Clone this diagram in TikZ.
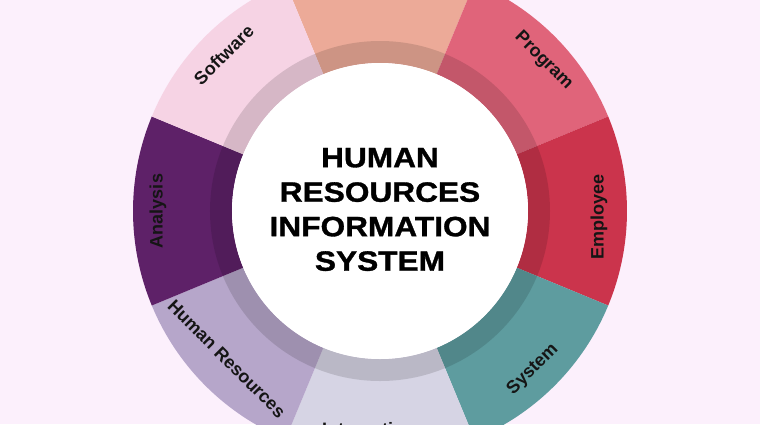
\documentclass[tikz,border=0pt]{standalone}
\usepackage{fontspec}
\setmainfont{Liberation Sans}
\newfontfamily\titlefont{Liberation Sans}[FakeStretch=1.13,FakeBold=1.2]
\definecolor{bgc}{HTML}{FCF0FC}
\definecolor{cTop}{HTML}{ECAA98}
\definecolor{cProgram}{HTML}{E0647A}
\definecolor{cEmployee}{HTML}{CB344C}
\definecolor{cSystem}{HTML}{5E9C9F}
\definecolor{cBottom}{HTML}{D6D4E4}
\definecolor{cHR}{HTML}{B6A6CA}
\definecolor{cAnalysis}{HTML}{5E2168}
\definecolor{cSoftware}{HTML}{F6D3E4}
\definecolor{labeltext}{HTML}{151515}
\begin{document}
\begin{tikzpicture}[x=1pt,y=1pt,
  lbl/.style={font=\bfseries\fontsize{18}{21}\selectfont, text=labeltext, inner sep=0pt},
  ttl/.style={font=\titlefont\bfseries\fontsize{28}{34.5}\selectfont, align=center, inner sep=0pt, text=black}]
\useasboundingbox (-380,-213) rectangle (380,211);
\fill[bgc] (-380,-213) rectangle (380,211);
\begin{scope}
\clip (-380,-213) rectangle (380,211);
\foreach \a/\c in {90/cTop,45/cProgram,0/cEmployee,-45/cSystem,-90/cBottom,-135/cHR,180/cAnalysis,135/cSoftware}{
  \pgfmathsetmacro\aa{\a-22.5}
  \pgfmathsetmacro\ab{\a+22.5}
  \fill[\c] (\aa:148) -- (\aa:247) arc[start angle=\aa,end angle=\ab,radius=247] -- (\ab:148) arc[start angle=\ab,end angle=\aa,radius=148] -- cycle;
}
\fill[black,opacity=0.13,even odd rule] (0,0) circle[radius=170] (0,0) circle[radius=148];
\fill[white] (0,0) circle[radius=148];
\node[lbl,rotate=45] (software) at (135:221) {Software};
\node[lbl,rotate=-45] (program) at (42.5:222) {Program};
\node[lbl,rotate=90] (employee) at (-1.5:219) {Employee};
\node[lbl,rotate=45] (system) at (-46:220) {System};
\node[lbl,rotate=-45] (hr) at (-136:213) {Human Resources};
\node[lbl,rotate=90] (analysis) at (180:222) {Analysis};
\node[lbl,anchor=base west] (integration) at (-58,-224) {Integration};
\end{scope}
\node[ttl] (title) at (0,1.5) {HUMAN\\RESOURCES\\INFORMATION\\SYSTEM};
\end{tikzpicture}
\end{document}
